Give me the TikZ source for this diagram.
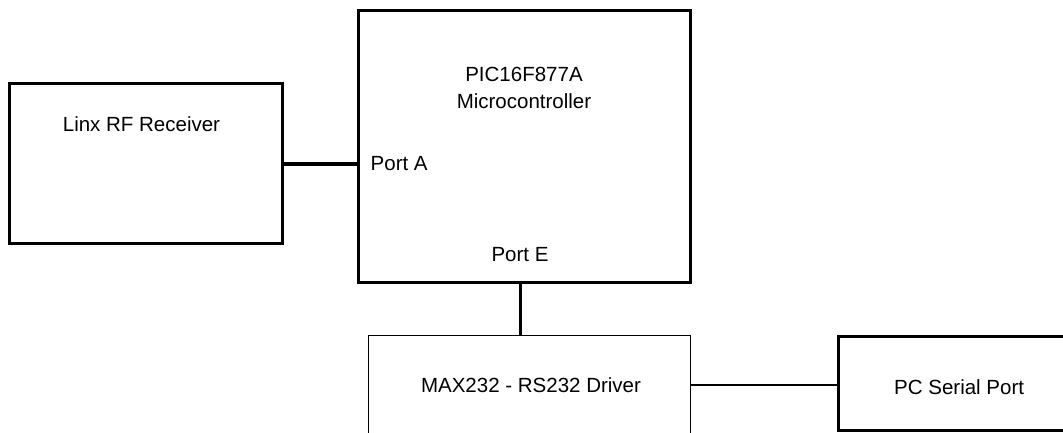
\documentclass[tikz,border=0pt]{standalone}
\usepackage{fontspec}
\setmainfont{Liberation Sans}
\usetikzlibrary{positioning}

\begin{document}
\begin{tikzpicture}[x=1pt,y=1pt,
  block/.style={draw, line width=3pt, inner sep=0pt},
  lbl/.style={font=\fontsize{20.5}{27}\selectfont, inner sep=0pt, align=center}]
  \useasboundingbox (0,0) rectangle (1063,432);
  \clip (0,0) rectangle (1063,432);
  % blocks
  \node[block, minimum width=273pt, minimum height=159pt] (linx) at (145.5,268.5) {};
  \node[block, minimum width=332pt, minimum height=271pt] (micro) at (524,285.5) {};
  \node[block, line width=1pt, minimum width=322pt, minimum height=140pt,
        anchor=north] (max) at (529,97) {};
  \node[block, minimum width=260pt, minimum height=94pt,
        anchor=north west] (pc) at (837,97) {};
  % labels
  \node[lbl, below=34pt of linx.north, xshift=-4pt] (linxtext) {Linx RF Receiver};
  \node[lbl, below=57pt of micro.north] (microtext) {PIC16F877A\\Microcontroller};
  \node[lbl, anchor=west] (porta) at ([xshift=14pt,yshift=-17.5pt]micro.west) {Port A};
  \node[lbl, above=22pt of micro.south, xshift=-4pt] (porte) {Port E};
  \node[lbl, below=42pt of max.north, xshift=2pt] (maxtext) {MAX232 - RS232 Driver};
  \node[lbl, right=57pt of pc.west, yshift=-4pt] (pctext) {PC Serial Port};
  % connectors
  \draw[line width=4pt] (porta.west -| linx.east) -- (porta.west -| micro.west);
  \draw[line width=3pt] (porte |- micro.south) -- (porte |- max.north);
  \draw[line width=2pt] (maxtext -| max.east) -- (maxtext -| pc.west);
\end{tikzpicture}
\end{document}
